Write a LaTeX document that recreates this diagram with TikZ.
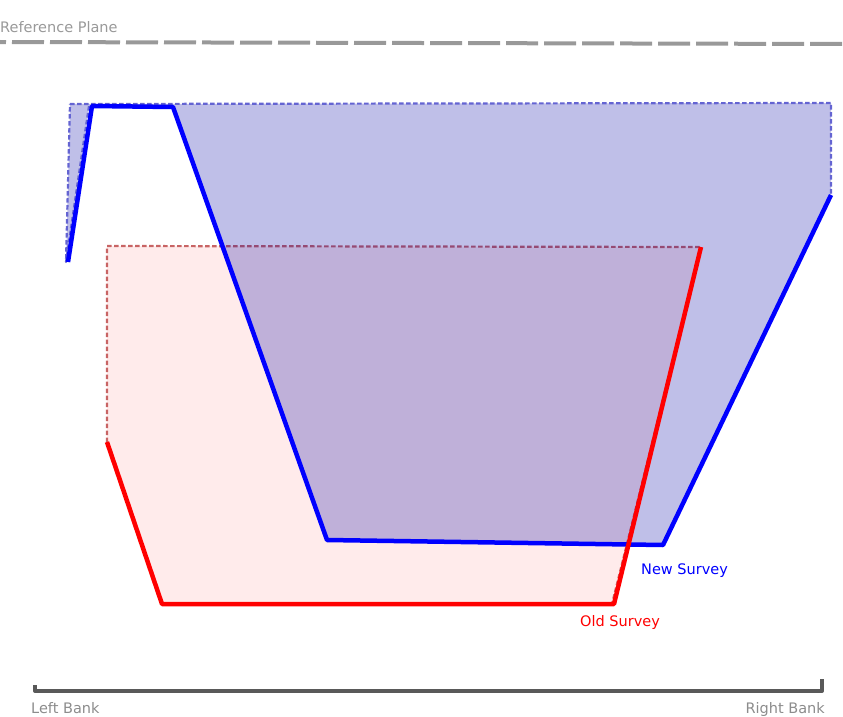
\documentclass[tikz,border=0pt]{standalone}
\usepackage{fontspec}
\setmainfont{DejaVu Sans}

\begin{document}
\begin{tikzpicture}[x=1pt, y=-1pt, line join=round,
  tag/.style={font=\fontsize{14.5}{17}\selectfont, inner sep=0pt},
  edge/.style={line width=2.2pt, dash pattern=on 4.5pt off 2.5pt},
  bed/.style={line width=4.5pt}]
  \useasboundingbox (0,0) rectangle (843,717);
  % reference plane
  \draw[line width=4pt, color=black!40, dash pattern=on 32pt off 6pt, dash phase=26pt]
    (0,42) -- (843,44);
  \node[tag, anchor=base west, text=black!40] (refplane) at (0,33) {Reference Plane};
  % old survey: filled area
  \draw[edge, color={rgb,255:red,200;green,100;blue,100}, fill=red, fill opacity=0.08]
    (107,442) -- (107,246) -- (701,247) -- (612,604) -- (162,604) -- cycle;
  % new survey: filled area and bed line
  \draw[edge, color={rgb,255:red,100;green,100;blue,210}, fill={rgb,255:red,0;green,0;blue,162}, fill opacity=0.25]
    (70,104) -- (831,103) -- (831,195) -- (663,545) -- (327,540)
    -- (173,107) -- (89,106) -- (66,262) -- cycle;
  \draw[bed, blue] (68,262) -- (92,106) -- (173,107) -- (327,540)
    -- (663,545) -- (831,195);
  % old survey bed line
  \draw[bed, red] (107,442) -- (162,604) -- (614,604) -- (701,247);
  \node[tag, anchor=base west, blue] (newsurvey) at (641,574) {New Survey};
  \node[tag, anchor=base west, red] (oldsurvey) at (580,626) {Old Survey};
  % cross section width between the banks
  \coordinate (leftbank) at (35,685);
  \coordinate (rightbank) at (822,679);
  \draw[line width=4pt, color=black!65, line cap=butt]
    (leftbank) -- (35,691) -- (822,691) -- (rightbank);
  \node[tag, anchor=base west, text=black!45] (lefttag) at (31,713) {Left Bank};
  \node[tag, anchor=base east, text=black!45] (righttag) at (825,713) {Right Bank};
\end{tikzpicture}
\end{document}
